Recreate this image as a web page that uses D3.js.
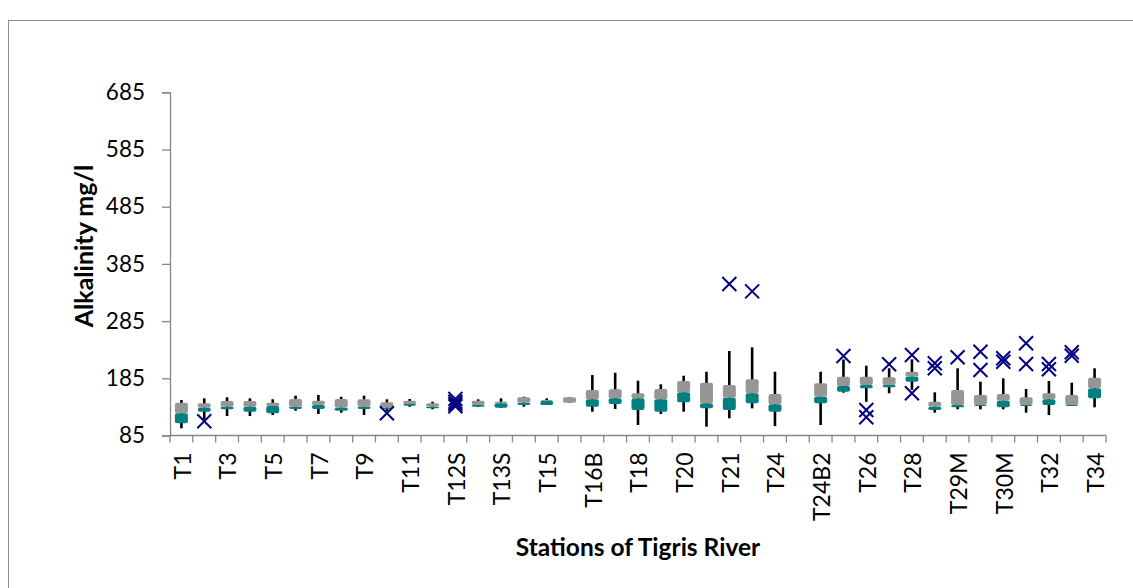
<!DOCTYPE html>
<html>
<head>
<meta charset="utf-8">
<script src="https://cdn.jsdelivr.net/npm/d3@7"></script>
<style>
  html, body { margin: 0; padding: 0; background: #fff; }
  svg { display: block; }
</style>
</head>
<body>
<svg id="chart" width="1133" height="588"></svg>
<script>
// Stations along the Tigris River (every other name is printed on the axis)
const stations = ["T1","T2","T3","T4","T5","T6","T7","T8","T9","T10",
  "T11","T12","T12S","T13","T13S","T14","T15","T16","T16B","T17",
  "T18","T19","T20","T20B","T21","T22","T24","T24B","T24B2","T25",
  "T26","T27","T28","T29","T29M","T30","T30M","T31","T32","T33","T34"];

// Box plot statistics, alkalinity in mg/l (null = no samples)
const whiskerLow = [97.6,113,119,119,120.8,128.4,122.6,124.9,120.8,127.8,
  135.3,130.8,136,135.3,133.6,135.3,138.3,142.3,126.6,131.3,
  103.4,122.6,126.6,100.4,115.1,132.5,101.4,null,103.4,159.8,
  144,158.8,164.5,124.9,130.8,130.8,130.8,124.9,120.8,136.6,134.3];
const quartile1 = [106.3,126.6,130.8,126.6,123.8,131.3,131.3,128.4,131.3,131.3,
  137.1,132.5,137,135.3,133.6,138.3,138.3,142.3,135.3,140,
  129.6,126.6,143,132.5,129.6,141.3,126.6,null,141.3,161.6,
  167.5,169.3,179,129.6,134.3,136.6,134.3,136.6,138.3,136.6,150];
const medians = [123.8,133.6,135.3,135.3,136.6,135.3,138.3,133.6,135.3,133.6,
  140,135.3,141,138.3,141.3,142.3,145.3,142.3,148.3,150,
  150,148.3,160.5,141.3,151.1,158.8,139.5,null,152.8,171.5,
  173.3,173.3,187.8,135.3,138.3,138.3,145.8,138.3,148.3,138.3,167.5];
const quartile3 = [142.3,141.3,145.3,145.3,142.3,148.8,145.8,148.8,148.3,143,
  145.8,141.3,142.5,145.8,144,151.8,147,151.8,164.5,165.8,
  158.8,166.3,180.3,177.3,173.3,183.3,157.6,null,176.2,187.8,
  187.8,186.7,196.5,144,164.5,155.8,157.6,151.8,158.8,155.8,186];
const whiskerHigh = [147,150,151.8,150,148.3,154.6,155.8,152.8,154.6,148.3,
  148.8,144,147,148.3,150,152.8,150,151.8,190.8,194.8,
  180.8,174.5,189.5,196.5,232.7,239.2,196.5,null,196.5,218,
  207,202.5,218.2,160.5,202.5,179,185,166.3,180.3,177.3,202.5];
const outliers = [[],[110],[],[],[],[],[],[],[],[124],
  [],[],[149,144,140,136],[],[],[],[],[],[],[],
  [],[],[],[],[350],[337],[],[],[],[224],
  [129.6,116.8],[209.5],[225.7,158.8],[211.2,202.5],[221.7],[231.5,199.5],[220,214],[246.2,210],[210,200.7],[230.4,224.5],[]];

const yTicks = [85,185,285,385,485,585,685];

const svg = d3.select("#chart");
const FONT = "Lato, 'Open Sans', sans-serif";
const axisGray = "#868686";

// outer chart frame
svg.append("rect")
  .attr("x", 8.5).attr("y", 20.5)
  .attr("width", 1140).attr("height", 600)
  .attr("fill", "none").attr("stroke", "#8c8c8c").attr("stroke-width", 1);

const plot = { left: 170, right: 1106, top: 92.3, bottom: 435.5 };

const x = d3.scaleBand().domain(stations).range([plot.left, plot.right]).padding(0);
const y = d3.scaleLinear().domain([85, 685]).range([plot.bottom, plot.top]);

// y axis
const yAxis = svg.append("g")
  .attr("transform", `translate(${plot.left},0)`)
  .call(d3.axisLeft(y).tickValues(yTicks).tickSize(8).tickPadding(17).tickFormat(d3.format("d")));
yAxis.select(".domain").attr("stroke", axisGray).attr("stroke-width", 1.3);
yAxis.selectAll(".tick line").attr("stroke", axisGray).attr("stroke-width", 1.3);
yAxis.selectAll(".tick text").attr("font-family", FONT).attr("font-size", 22.5).attr("fill", "#000");

// x axis: tick marks sit between stations
const xg = svg.append("g").attr("transform", `translate(0,${plot.bottom})`);
xg.append("line")
  .attr("x1", plot.left).attr("x2", plot.right)
  .attr("stroke", axisGray).attr("stroke-width", 1.3);
const bounds = stations.map(s => x(s)).concat([plot.right]);
xg.selectAll("line.sep").data(bounds).join("line")
  .attr("class", "sep")
  .attr("x1", d => d).attr("x2", d => d)
  .attr("y1", 0).attr("y2", 7)
  .attr("stroke", axisGray).attr("stroke-width", 1.3);
xg.selectAll("text.lbl").data(stations.filter((s, i) => i % 2 === 0)).join("text")
  .attr("class", "lbl")
  .attr("transform", d => `translate(${x(d) + x.bandwidth() / 2 + 1},${17}) rotate(-90)`)
  .attr("text-anchor", "end")
  .attr("dy", "0.36em")
  .attr("font-family", FONT).attr("font-size", 23).attr("fill", "#000")
  .text(d => d);

// axis titles
svg.append("text")
  .attr("transform", `translate(93,246) rotate(-90)`)
  .attr("text-anchor", "middle")
  .attr("font-family", FONT).attr("font-weight", "bold").attr("font-size", 25)
  .text("Alkalinity mg/l");
svg.append("text")
  .attr("x", (plot.left + plot.right) / 2).attr("y", 556)
  .attr("text-anchor", "middle")
  .attr("font-family", FONT).attr("font-weight", "bold").attr("font-size", 24.5)
  .text("Stations of Tigris River");

// box plot rows
const rows = stations.map((s, i) => ({
  s, lo: whiskerLow[i], q1: quartile1[i], med: medians[i],
  q3: quartile3[i], hi: whiskerHigh[i], out: outliers[i]
}));
const cx = d => x(d.s) + x.bandwidth() / 2;
const boxW = 13;
const present = rows.filter(d => d.med !== null);

// whiskers
svg.append("g").selectAll("line").data(present).join("line")
  .attr("x1", cx).attr("x2", cx)
  .attr("y1", d => y(d.hi)).attr("y2", d => y(d.lo))
  .attr("stroke", "#000").attr("stroke-width", 2.6);

// lower half of box (Q1 to median)
svg.append("g").selectAll("rect").data(present.filter(d => d.med > d.q1)).join("rect")
  .attr("x", d => cx(d) - boxW / 2).attr("width", boxW)
  .attr("y", d => y(d.med)).attr("height", d => y(d.q1) - y(d.med))
  .attr("rx", 2).attr("fill", "#008080");

// upper half of box (median to Q3)
svg.append("g").selectAll("rect").data(present.filter(d => d.q3 > d.med)).join("rect")
  .attr("x", d => cx(d) - boxW / 2).attr("width", boxW)
  .attr("y", d => y(d.q3)).attr("height", d => y(d.med) - y(d.q3))
  .attr("rx", 2).attr("fill", "#969696");

// outliers drawn as crosses
const pts = rows.flatMap(d => d.out.map(v => ({ s: d.s, v })));
const h = 7;
svg.append("g").selectAll("path").data(pts).join("path")
  .attr("d", d => {
    const px = cx(d), py = y(d.v);
    return `M${px - h},${py - h}L${px + h},${py + h}M${px - h},${py + h}L${px + h},${py - h}`;
  })
  .attr("fill", "none").attr("stroke", "#000080").attr("stroke-width", 2);
</script>
</body>
</html>
